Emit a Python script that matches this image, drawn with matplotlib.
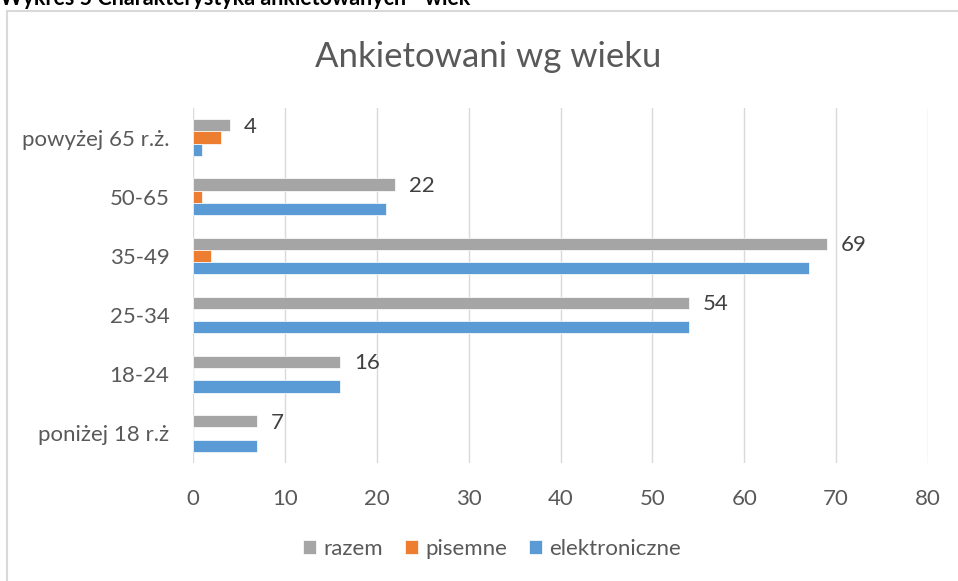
import matplotlib
matplotlib.use("Agg")
import matplotlib.pyplot as plt
from matplotlib.patches import Rectangle
import numpy as np

# age groups, bottom to top as on the chart
categories = ["poniżej 18 r.ż", "18-24", "25-34", "35-49", "50-65", "powyżej 65 r.ż."]
razem = [7, 16, 54, 69, 22, 4]
pisemne = [0, 0, 0, 2, 1, 3]
elektroniczne = [7, 16, 54, 67, 21, 1]
xticks = [0, 10, 20, 30, 40, 50, 60, 70, 80]

plt.rcParams['font.family'] = ['Lato', 'DejaVu Sans']

TXT = "#595959"
GRID = "#d9d9d9"
FS = 16

fig = plt.figure(figsize=(9.58, 5.81), dpi=100)

# frame of the chart object (runs off the right and bottom)
fig.patches.append(Rectangle((7 / 958, -0.05), 1.0, 1 - 11 / 581 + 0.05,
                             transform=fig.transFigure, fill=False,
                             edgecolor=GRID, linewidth=1.5))

fig.text(0.0, 1 - 5 / 581, "Wykres 5 Charakterystyka ankietowanych - wiek",
         fontsize=15.5, fontweight='bold', color='black', ha='left', va='baseline')

ax = fig.add_axes([193 / 958, 1 - 463 / 581, (928 - 193) / 958, (463 - 108) / 581])

y = np.arange(len(categories))
h = 0.207
ax.barh(y + h, razem, height=h, color="#A5A5A5", edgecolor='white', linewidth=0.5, label="razem")
ax.barh(y, pisemne, height=h, color="#ED7D31", edgecolor='white', linewidth=0.5, label="pisemne")
ax.barh(y - h, elektroniczne, height=h, color="#5B9BD5", edgecolor='white', linewidth=0.5, label="elektroniczne")

# only the totals get a value label
for yi, v in zip(y, razem):
    ax.annotate(str(v), (v, yi + h), xytext=(10, -1), textcoords='offset points',
                ha='left', va='center', fontsize=FS, color="#404040")

ax.set_xlim(0, 80)
ax.set_ylim(-0.5, len(categories) - 0.5)
ax.set_xticks(xticks)
ax.set_yticks(y)
ax.set_yticklabels(categories)
ax.grid(axis='x', color=GRID, linewidth=1)
ax.set_axisbelow(True)
for s in ax.spines.values():
    s.set_visible(False)
ax.tick_params(axis='both', length=0, labelsize=FS, colors=TXT)
ax.tick_params(axis='x', pad=19)
ax.tick_params(axis='y', pad=17)

fig.text(488 / 958, 1 - 57 / 581, "Ankietowani wg wieku", fontsize=25, color=TXT,
         ha='center', va='center')

leg = fig.legend(loc='center', bbox_to_anchor=(492 / 958, 1 - 549 / 581), ncol=3,
                 frameon=False, fontsize=FS, handlelength=0.6, handleheight=0.6,
                 handletextpad=0.3, columnspacing=1.0)
for t in leg.get_texts():
    t.set_color(TXT)

fig.savefig("out.png", dpi=100)
